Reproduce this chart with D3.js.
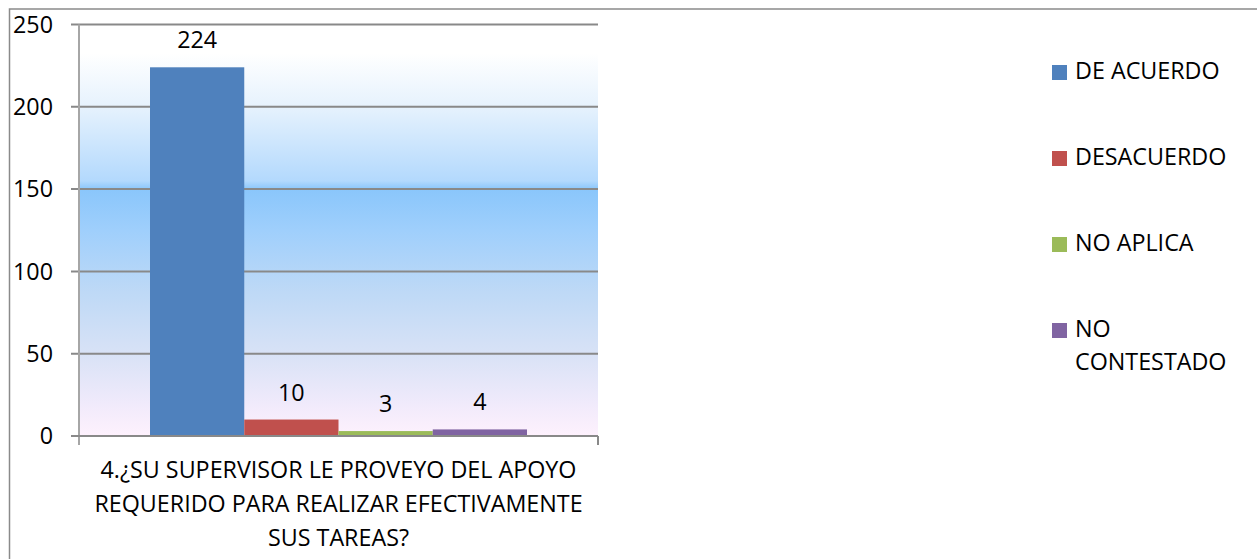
<!DOCTYPE html>
<html>
<head>
<meta charset="utf-8">
<script src="https://cdn.jsdelivr.net/npm/d3@7"></script>
<style>
  body { margin: 0; background: #fff; }
  text { font-family: "Open Sans", sans-serif; fill: #000; }
</style>
</head>
<body>
<div id="bar_chart"></div>
<script>
  var categories = ["4.¿SU SUPERVISOR LE PROVEYO DEL APOYO REQUERIDO PARA REALIZAR EFECTIVAMENTE SUS TAREAS?"];
  var seriesNames = ["DE ACUERDO", "DESACUERDO", "NO APLICA", "NO CONTESTADO"];
  var seriesValues = [224, 10, 3, 4];
  var seriesColors = ["#4f81bd", "#c0504d", "#9bbb59", "#8064a2"];
  var yTicks = [0, 50, 100, 150, 200, 250];

  var W = 1257, H = 559;
  var plotLeft = 79, plotRight = 598, plotTop = 24.5, plotBottom = 436;
  var fontSize = 23.3;

  var svg = d3.select("#bar_chart")
    .append("svg")
    .attr("width", W)
    .attr("height", H);

  // background gradient of plot area
  var grad = svg.append("defs").append("linearGradient")
    .attr("id", "bg")
    .attr("x1", 0).attr("y1", 0).attr("x2", 0).attr("y2", 1);
  [[0, "#ffffff"], [0.07, "#ffffff"], [0.2, "#e6f2fd"], [0.38, "#b3d9fd"],
   [0.4, "#8ac6fb"], [0.5, "#9fcffc"], [0.65, "#bed9f6"], [0.8, "#d8e2f6"],
   [0.92, "#f0eafb"], [1, "#fef1fd"]].forEach(function(s) {
    grad.append("stop").attr("offset", s[0]).attr("stop-color", s[1]);
  });

  // outer frame
  svg.append("rect")
    .attr("x", 9.5).attr("y", 9)
    .attr("width", W + 10).attr("height", H + 10)
    .attr("fill", "none")
    .attr("stroke", "#8a8a8a")
    .attr("stroke-width", 1.5);

  var x0 = d3.scaleBand()
    .domain(categories)
    .range([plotLeft, plotRight])
    .paddingInner(0.1585)
    .paddingOuter(0.1585);

  var x1 = d3.scaleBand()
    .domain(seriesNames)
    .range([0, x0.bandwidth()]);

  var y = d3.scaleLinear()
    .domain([0, 250])
    .range([plotBottom, plotTop]);

  svg.append("rect")
    .attr("x", plotLeft).attr("y", plotTop)
    .attr("width", plotRight - plotLeft).attr("height", plotBottom - plotTop)
    .attr("fill", "url(#bg)");

  // gridlines
  svg.append("g")
    .selectAll("line")
    .data(yTicks.filter(function(d) { return d > 0; }))
    .enter().append("line")
    .attr("x1", plotLeft - 8).attr("x2", plotRight)
    .attr("y1", function(d) { return y(d); })
    .attr("y2", function(d) { return y(d); })
    .attr("stroke", "#898989")
    .attr("stroke-width", 2);

  // y tick labels
  svg.append("g")
    .selectAll("text")
    .data(yTicks)
    .enter().append("text")
    .attr("x", 53)
    .attr("y", function(d) { return y(d); })
    .attr("dy", "0.36em")
    .attr("text-anchor", "end")
    .style("font-size", fontSize + "px")
    .text(function(d) { return d; });

  // bars
  var g = svg.append("g")
    .attr("transform", "translate(" + x0(categories[0]) + ",0)");

  g.selectAll("rect")
    .data(seriesValues)
    .enter().append("rect")
    .attr("x", function(d, i) { return x1(seriesNames[i]); })
    .attr("y", function(d) { return y(d); })
    .attr("width", x1.bandwidth())
    .attr("height", function(d) { return y(0) - y(d); })
    .style("fill", function(d, i) { return seriesColors[i]; });

  g.selectAll("text")
    .data(seriesValues)
    .enter().append("text")
    .attr("x", function(d, i) { return x1(seriesNames[i]) + x1.bandwidth() / 2; })
    .attr("y", function(d) { return y(d) - 19; })
    .attr("text-anchor", "middle")
    .style("font-size", fontSize + "px")
    .text(function(d) { return d; });

  // axes lines
  svg.append("line")
    .attr("x1", plotLeft).attr("x2", plotLeft)
    .attr("y1", plotTop).attr("y2", plotBottom + 9)
    .attr("stroke", "#a6a6a6").attr("stroke-width", 2);
  svg.append("line")
    .attr("x1", plotLeft - 8).attr("x2", plotRight)
    .attr("y1", plotBottom).attr("y2", plotBottom)
    .attr("stroke", "#898989").attr("stroke-width", 2);
  svg.append("line")
    .attr("x1", plotRight).attr("x2", plotRight)
    .attr("y1", plotBottom).attr("y2", plotBottom + 9)
    .attr("stroke", "#898989").attr("stroke-width", 2);

  function wrap(str, maxW, size) {
    var tmp = svg.append("text").style("font-size", size + "px");
    var words = str.split(" "), lines = [], cur = "";
    words.forEach(function(w) {
      var test = cur ? cur + " " + w : w;
      tmp.text(test);
      if (tmp.node().getComputedTextLength() > maxW && cur) {
        lines.push(cur);
        cur = w;
      } else {
        cur = test;
      }
    });
    lines.push(cur);
    tmp.remove();
    return lines;
  }

  // category label
  var catLines = wrap(categories[0], 500, fontSize);
  svg.append("g").selectAll("text")
    .data(catLines)
    .enter().append("text")
    .attr("x", x0(categories[0]) + x0.bandwidth() / 2)
    .attr("y", function(d, i) { return 478 + i * 34; })
    .attr("text-anchor", "middle")
    .style("font-size", fontSize + "px")
    .text(function(d) { return d; });

  // legend
  var legend = svg.append("g")
    .selectAll("g")
    .data(seriesNames)
    .enter().append("g")
    .attr("transform", function(d, i) { return "translate(1052," + (79 + i * 86) + ")"; });

  legend.append("rect")
    .attr("x", 0).attr("y", -14)
    .attr("width", 15).attr("height", 15)
    .style("fill", function(d, i) { return seriesColors[i]; });

  legend.each(function(d) {
    var lines = wrap(d, 165, fontSize);
    d3.select(this).selectAll("text")
      .data(lines)
      .enter().append("text")
      .attr("x", 23)
      .attr("y", function(t, j) { return j * 33; })
      .style("font-size", fontSize + "px")
      .text(function(t) { return t; });
  });
</script>
</body>
</html>
